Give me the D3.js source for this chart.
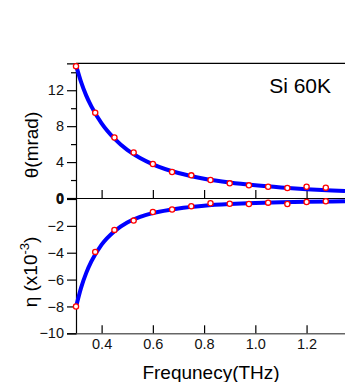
<!DOCTYPE html>
<html>
<head>
<meta charset="utf-8">
<script src="https://cdn.jsdelivr.net/npm/d3@7"></script>
<style>
  body { margin: 0; background: #fff; }
  text { font-family: "Liberation Sans", Arial, sans-serif; }
</style>
</head>
<body>
<div id="chart"></div>
<script>
// measured points (frequency in THz)
var freq_points  = [0.3, 0.375, 0.45, 0.525, 0.6, 0.675, 0.75, 0.825, 0.9, 0.975, 1.05, 1.125, 1.2, 1.275];
var theta_points = [14.67, 9.5, 6.74, 5.07, 3.78, 2.89, 2.52, 2.0, 1.63, 1.41, 1.26, 1.11, 1.26, 1.15];
var eta_points   = [-8.0, -3.94, -2.3, -1.61, -0.97, -0.78, -0.54, -0.32, -0.35, -0.37, -0.27, -0.37, -0.22, -0.17];

// fitted curves
var freq_curve  = [0.30, 0.32, 0.34, 0.36, 0.40, 0.45, 0.50, 0.55, 0.60, 0.70, 0.80, 0.90, 1.00, 1.10, 1.20, 1.30, 1.35];
var theta_curve = [14.8, 12.9, 11.4, 10.2, 8.3, 6.6, 5.35, 4.45, 3.75, 2.78, 2.15, 1.72, 1.41, 1.17, 0.98, 0.84, 0.78];
var eta_curve   = [-8.05, -6.6, -5.5, -4.65, -3.4, -2.4, -1.75, -1.33, -1.05, -0.7, -0.5, -0.38, -0.3, -0.25, -0.21, -0.18, -0.17];

var x_ticks      = [0.4, 0.6, 0.8, 1.0, 1.2];
var theta_ticks  = [0, 4, 8, 12];
var theta_minor  = [2, 6, 10, 14];
var eta_ticks    = [0, -2, -4, -6, -8, -10];

var width  = 345;
var height = 382;
var left   = 76;

var svg = d3.select('#chart')
    .append('svg')
    .attr('width', width)
    .attr('height', height);

var scale_x = d3.scaleLinear()
                .domain([0.3, 1.35])
                .range([left, width]);
var scale_theta = d3.scaleLinear()
                .domain([0, 15])
                .range([198, 63.3]);
var scale_eta = d3.scaleLinear()
                .domain([-10, 0])
                .range([333.3, 199]);

// axes
var axis_theta = d3.axisLeft(scale_theta)
                   .tickValues(theta_ticks)
                   .tickSize(9)
                   .tickPadding(3)
                   .tickFormat(d3.format('d'));
svg.append('g')
   .attr('transform', 'translate(' + left + ',0)')
   .call(axis_theta);

svg.append('g')
   .attr('transform', 'translate(' + left + ',0)')
   .call(d3.axisLeft(scale_theta).tickValues(theta_minor).tickSize(5).tickFormat(''))
   .select('.domain').remove();

var axis_eta = d3.axisLeft(scale_eta)
                 .tickValues(eta_ticks)
                 .tickSize(9)
                 .tickPadding(3)
                 .tickFormat(d3.format('d'));
svg.append('g')
   .attr('transform', 'translate(' + left + ',0)')
   .call(axis_eta);

// middle axis, ticks pointing up
svg.append('g')
   .attr('transform', 'translate(0,' + scale_theta(0) + ')')
   .call(d3.axisTop(scale_x).tickValues(x_ticks).tickSize(8).tickSizeOuter(0).tickFormat(''));

// bottom axis, inner ticks, gray
var g_bottom = svg.append('g')
   .attr('transform', 'translate(0,' + scale_eta(-10) + ')')
   .call(d3.axisBottom(scale_x).tickValues(x_ticks).tickSizeInner(-8).tickSizeOuter(0).tickPadding(5).tickFormat(d3.format('.1f')));

// top border
svg.append('line')
   .attr('x1', left).attr('x2', width)
   .attr('y1', scale_theta(15)).attr('y2', scale_theta(15))
   .attr('stroke', '#000').attr('stroke-width', 1.2);

svg.selectAll('.tick text')
   .attr('font-size', 14.5)
   .attr('fill', '#111');
svg.selectAll('.tick').filter(function(d){ return d === 0; })
   .select('text').attr('font-weight', 'bold');
svg.selectAll('.domain, .tick line').attr('stroke-width', 1.2);
g_bottom.select('.domain').attr('stroke', '#666').attr('stroke-width', 1.6);

// curves
var line_theta = d3.line()
    .x(function(d, i){ return scale_x(freq_curve[i]); })
    .y(function(d){ return scale_theta(d); })
    .curve(d3.curveMonotoneX);
var line_eta = d3.line()
    .x(function(d, i){ return scale_x(freq_curve[i]); })
    .y(function(d){ return scale_eta(d); })
    .curve(d3.curveMonotoneX);

svg.append('path')
   .attr('d', line_theta(theta_curve))
   .attr('fill', 'none')
   .attr('stroke', '#0000ff')
   .attr('stroke-width', 4);
svg.append('path')
   .attr('d', line_eta(eta_curve))
   .attr('fill', 'none')
   .attr('stroke', '#0000ff')
   .attr('stroke-width', 4);

// points
svg.selectAll('.pt-theta')
   .data(theta_points)
   .enter().append('circle')
   .attr('cx', function(d, i){ return scale_x(freq_points[i]); })
   .attr('cy', function(d){ return scale_theta(d); })
   .attr('r', 2.6)
   .attr('fill', '#fff')
   .attr('stroke', '#ff0000')
   .attr('stroke-width', 1.3);
svg.selectAll('.pt-eta')
   .data(eta_points)
   .enter().append('circle')
   .attr('cx', function(d, i){ return scale_x(freq_points[i]); })
   .attr('cy', function(d){ return scale_eta(d); })
   .attr('r', 2.6)
   .attr('fill', '#fff')
   .attr('stroke', '#ff0000')
   .attr('stroke-width', 1.3);

// labels
svg.append('text')
   .attr('x', 331).attr('y', 93)
   .attr('text-anchor', 'end')
   .attr('font-size', 21)
   .text('Si 60K');

svg.append('text')
   .attr('transform', 'translate(38,145) rotate(-90)')
   .attr('text-anchor', 'middle')
   .attr('font-size', 19)
   .text('θ(mrad)');

var eta_label = svg.append('text')
   .attr('transform', 'translate(37,272) rotate(-90)')
   .attr('text-anchor', 'middle')
   .attr('font-size', 19);
eta_label.append('tspan').text('η (x10');
eta_label.append('tspan').attr('font-size', 13).attr('dy', -8).text('-3');
eta_label.append('tspan').attr('dy', 8).text(')');

svg.append('text')
   .attr('x', 211).attr('y', 379)
   .attr('text-anchor', 'middle')
   .attr('font-size', 19)
   .text('Frequnecy(THz)');
</script>
</body>
</html>
